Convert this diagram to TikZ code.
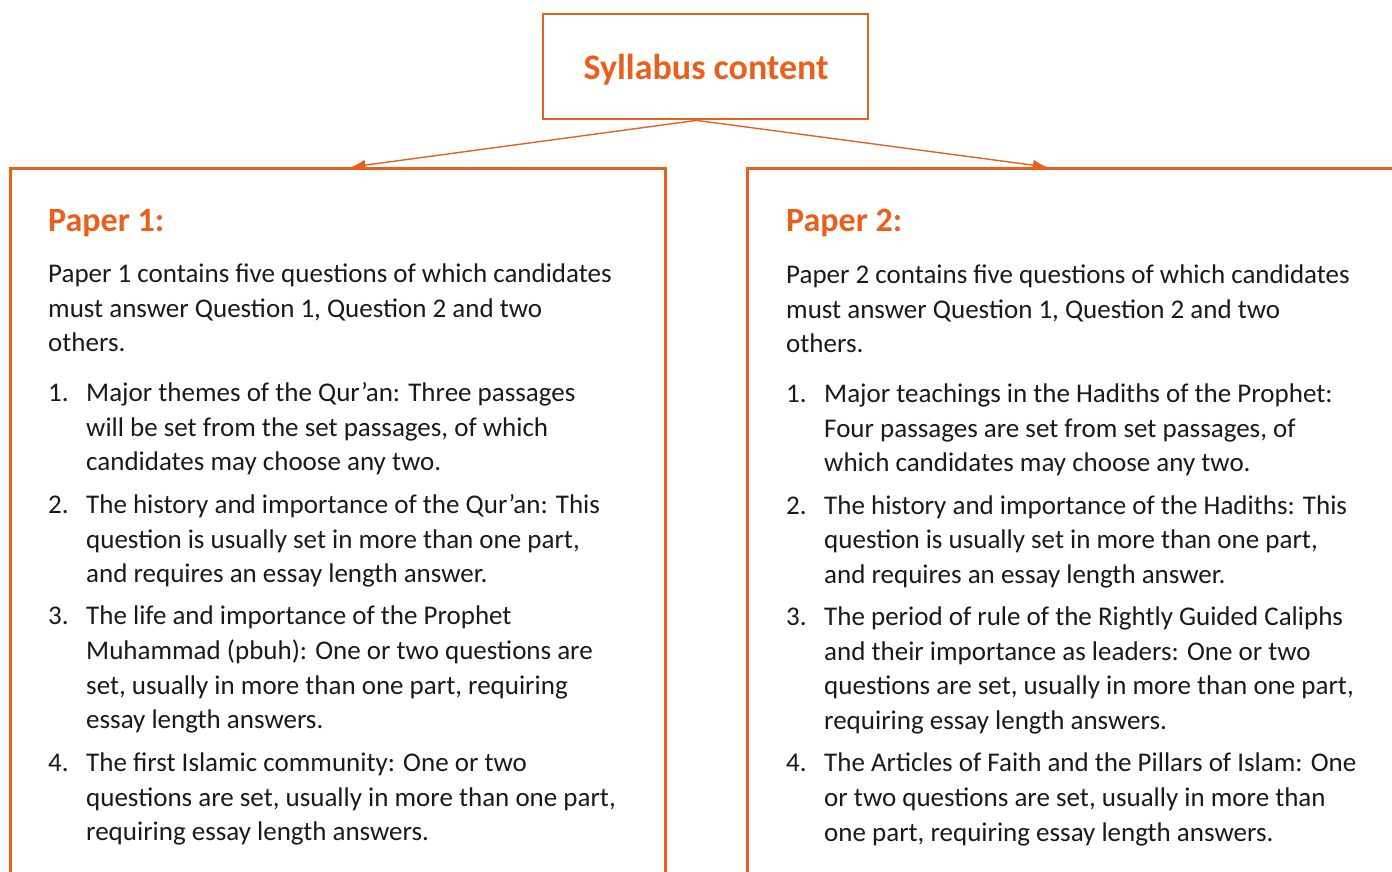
\documentclass[tikz,border=0pt]{standalone}
\usepackage{fontspec}
\setmainfont{Carlito}
\usetikzlibrary{arrows.meta}
\definecolor{cor}{RGB}{232,96,28}
\definecolor{txt}{RGB}{26,26,26}
\tikzset{
  box/.style={draw=cor, line width=2.8pt, rectangle, inner sep=0pt},
  conn/.style={draw=cor, line width=1.4pt, -{Latex[length=14pt,width=11pt]}},
  ln/.style={anchor=base west, inner sep=0pt, text=txt, font=\fontsize{27}{32}\selectfont},
  head/.style={anchor=base west, inner sep=0pt, text=cor, font=\fontsize{34}{40}\selectfont\bfseries},
}
\begin{document}
\begin{tikzpicture}[x=1pt,y=-1pt]
\useasboundingbox (0,0) rectangle (1392,872);
\node[box, minimum width=325pt, minimum height=105pt] (top) at (705.5,66.5) {};
\node[text=cor, font=\fontsize{36}{42}\selectfont\bfseries, inner sep=0pt] (title) at (706,70) {Syllabus content};
\node[box, minimum width=655pt, minimum height=760pt, anchor=north west] (p1) at (9,167) {};
\node[box, minimum width=655pt, minimum height=760pt, anchor=north west] (p2) at (746,167) {};
\coordinate (src) at ([xshift=-9pt]top.south);
\draw[conn] (src) -- ([xshift=13.5pt]p1.north);
\draw[conn] (src) -- ([xshift=-28pt]p2.north);
% Paper 1
\node[head] (h1) at (48,231) {Paper 1:};
\node[ln] (a1) at (48,282) {Paper 1 contains five questions of which candidates};
\node[ln] (a2) at (48,317) {must answer Question 1, Question 2 and two};
\node[ln] (a3) at (48,351) {others.};
\node[ln] (n1) at (48,401) {1.};
\node[ln] (b1) at (86,401) {Major themes of the Qur’an: Three passages};
\node[ln] (b2) at (86,436) {will be set from the set passages, of which};
\node[ln] (b3) at (86,470) {candidates may choose any two.};
\node[ln] (n2) at (48,513) {2.};
\node[ln] (c1) at (86,513) {The history and importance of the Qur’an: This};
\node[ln] (c2) at (86,548) {question is usually set in more than one part,};
\node[ln] (c3) at (86,582) {and requires an essay length answer.};
\node[ln] (n3) at (48,624) {3.};
\node[ln] (d1) at (86,624) {The life and importance of the Prophet};
\node[ln] (d2) at (86,659) {Muhammad (pbuh): One or two questions are};
\node[ln] (d3) at (86,694) {set, usually in more than one part, requiring};
\node[ln] (d4) at (86,728) {essay length answers.};
\node[ln] (n4) at (48,771) {4.};
\node[ln] (e1) at (86,771) {The first Islamic community: One or two};
\node[ln] (e2) at (86,806) {questions are set, usually in more than one part,};
\node[ln] (e3) at (86,840) {requiring essay length answers.};
% Paper 2
\node[head] (h2) at (786,231) {Paper 2:};
\node[ln] (f1) at (786,283) {Paper 2 contains five questions of which candidates};
\node[ln] (f2) at (786,318) {must answer Question 1, Question 2 and two};
\node[ln] (f3) at (786,352) {others.};
\node[ln] (m1) at (786,402) {1.};
\node[ln] (g1) at (824,402) {Major teachings in the Hadiths of the Prophet:};
\node[ln] (g2) at (824,437) {Four passages are set from set passages, of};
\node[ln] (g3) at (824,471) {which candidates may choose any two.};
\node[ln] (m2) at (786,514) {2.};
\node[ln] (i1) at (824,514) {The history and importance of the Hadiths: This};
\node[ln] (i2) at (824,548) {question is usually set in more than one part,};
\node[ln] (i3) at (824,583) {and requires an essay length answer.};
\node[ln] (m3) at (786,625) {3.};
\node[ln] (j1) at (824,625) {The period of rule of the Rightly Guided Caliphs};
\node[ln] (j2) at (824,660) {and their importance as leaders: One or two};
\node[ln] (j3) at (824,694) {questions are set, usually in more than one part,};
\node[ln] (j4) at (824,729) {requiring essay length answers.};
\node[ln] (m4) at (786,771) {4.};
\node[ln] (k1) at (824,771) {The Articles of Faith and the Pillars of Islam: One};
\node[ln] (k2) at (824,806) {or two questions are set, usually in more than};
\node[ln] (k3) at (824,841) {one part, requiring essay length answers.};
\end{tikzpicture}
\end{document}
